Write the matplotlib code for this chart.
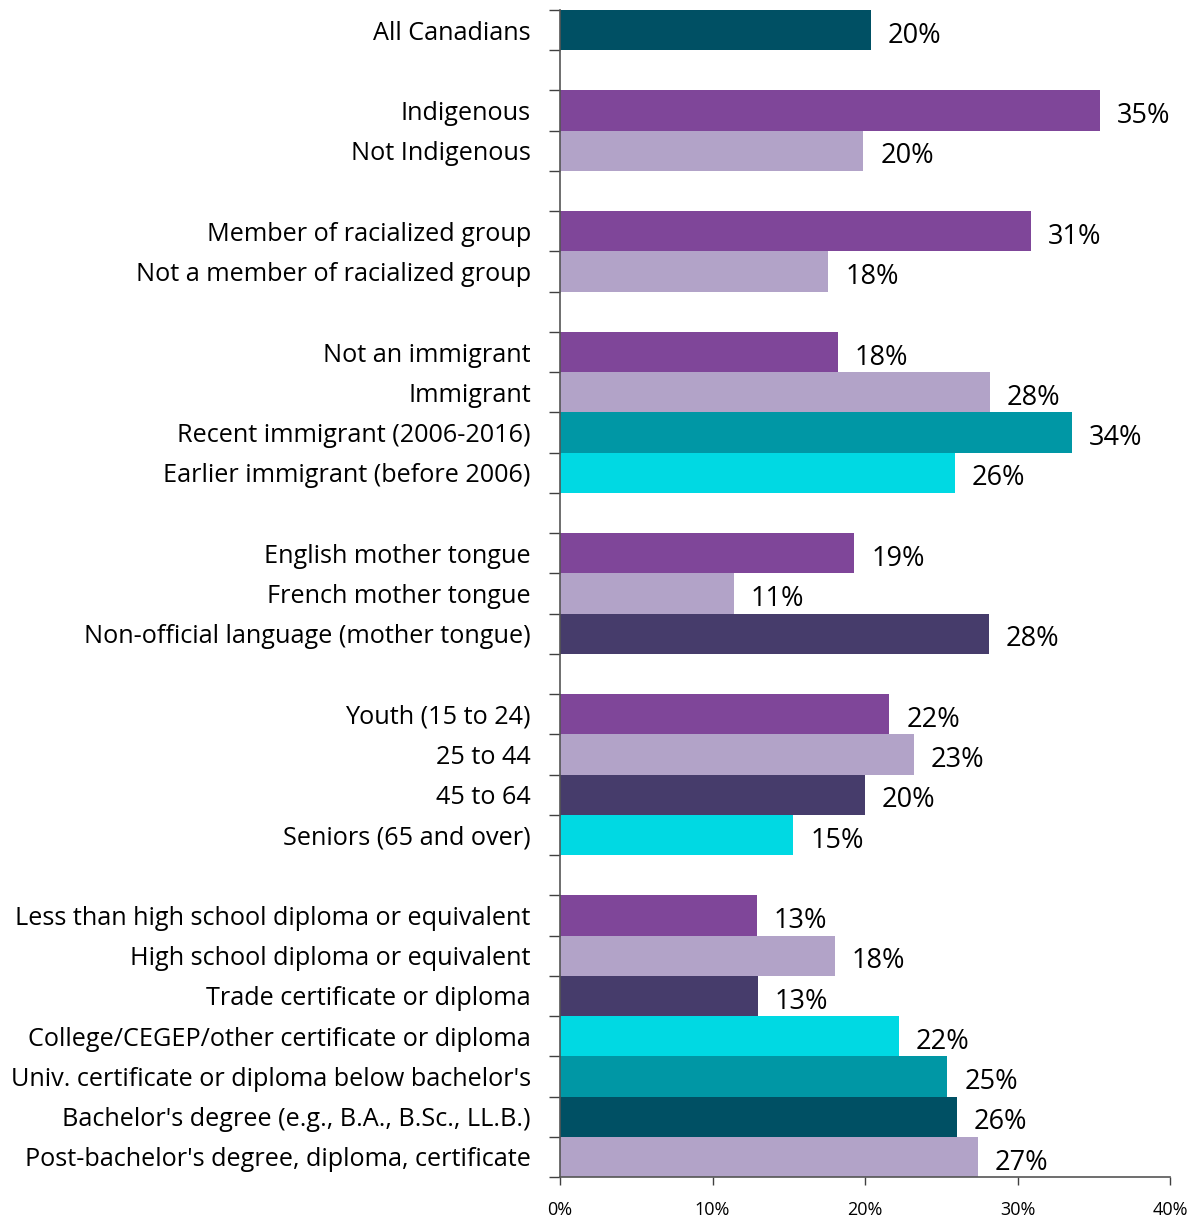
import numpy as np
import matplotlib
matplotlib.use("Agg")
import matplotlib.pyplot as plt

plt.rcParams['font.family'] = ['Open Sans', 'DejaVu Sans']

# share of each population group (%)
groups = [
    ["All Canadians"],
    ["Indigenous", "Not Indigenous"],
    ["Member of racialized group", "Not a member of racialized group"],
    ["Not an immigrant", "Immigrant", "Recent immigrant (2006-2016)",
     "Earlier immigrant (before 2006)"],
    ["English mother tongue", "French mother tongue",
     "Non-official language (mother tongue)"],
    ["Youth (15 to 24)", "25 to 44", "45 to 64", "Seniors (65 and over)"],
    ["Less than high school diploma or equivalent",
     "High school diploma or equivalent", "Trade certificate or diploma",
     "College/CEGEP/other certificate or diploma",
     "Univ. certificate or diploma below bachelor's",
     "Bachelor's degree (e.g., B.A., B.Sc., LL.B.)",
     "Post-bachelor's degree, diploma, certificate"],
]
values = [
    [20.4],
    [35.4, 19.9],
    [30.9, 17.6],
    [18.2, 28.2, 33.6, 25.9],
    [19.3, 11.4, 28.1],
    [21.6, 23.2, 20.0, 15.3],
    [12.9, 18.0, 13.0, 22.2, 25.4, 26.0, 27.4],
]

dteal = '#005064'
purple = '#7f4699'
lilac = '#b2a3c8'
teal = '#0097a5'
cyan = '#00d9e3'
indigo = '#463c6b'
colors = [
    [dteal],
    [purple, lilac],
    [purple, lilac],
    [purple, lilac, teal, cyan],
    [purple, lilac, indigo],
    [purple, lilac, indigo, cyan],
    [purple, lilac, indigo, cyan, teal, dteal, lilac],
]

# one empty row between groups
pos, labs, vals, cols = [], [], [], []
row = 0
for g, v, c in zip(groups, values, colors):
    for name, val, col in zip(g, v, c):
        pos.append(row); labs.append(name); vals.append(val); cols.append(col)
        row += 1
    row += 1
nrows = row - 1

fig = plt.figure(figsize=(11.97, 12.19), dpi=100)
ax = fig.add_axes([560/1197, 1 - 1177/1219, 610/1197, 1167/1219])

ax.barh(pos, vals, height=1.0, color=cols)
for p, v in zip(pos, vals):
    ax.text(v + 1.1, p + 0.14, f"{v:.0f}%", va='center', ha='left', fontsize=19.5)

ax.set_ylim(nrows - 0.5, -0.5)
ax.set_xlim(0, 40)
ax.set_yticks(pos)
ax.set_yticklabels(labs, fontsize=18.2)
ax.tick_params(axis='y', length=0, pad=21)
ax.set_yticks(np.arange(nrows + 1) - 0.5, minor=True)
ax.tick_params(axis='y', which='minor', length=8, width=1, color='#404040')

ax.set_xticks([0, 10, 20, 30, 40])
ax.set_xticklabels(["0%", "10%", "20%", "30%", "40%"], fontsize=13)
ax.tick_params(axis='x', length=6, width=1, color='#404040', pad=11)

for s in ['top', 'right']:
    ax.spines[s].set_visible(False)
for s in ['left', 'bottom']:
    ax.spines[s].set_color('#555555')
    ax.spines[s].set_linewidth(1.2)

fig.savefig('out.png', dpi=100)
